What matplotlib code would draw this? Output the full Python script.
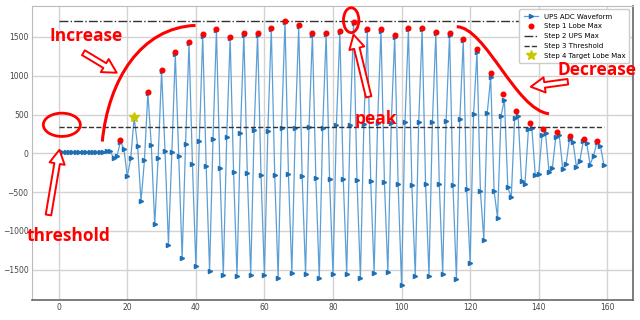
import numpy as np
import matplotlib.pyplot as plt
from matplotlib.patches import Ellipse, PathPatch
from matplotlib.path import Path

# --- datos ---
wave = [
    -10, 15, 18, 16, 14, 18, 16, 20, 16, 18, 14, 12, 14, 16, 28, 25,
    -55, -34, 150, 60, -295, -66, 462, 98, -620, -90, 780, 103,
    -915, -56, 1060, 32, -1175, 15, 1285, -34, -1350, 125, 1420, -140,
    -1457, 158, 1515, -162, -1517, 190, 1585, -192, -1573, 212, 1482, -239,
    -1580, 262, 1530, -250, -1565, 302, 1530, -275, -1573, 290, 1605, -275,
    -1603, 330, 1696, -268, -1543, 325, 1638, -293, -1556, 335, 1530, -321,
    -1612, 332, 1535, -337, -1560, 368, 1560, -337, -1550, 362, 1685, -338,
    -1611, 375, 1590, -355, -1538, 385, 1583, -372, -1534, 395, 1505, -397,
    -1692, 401, 1598, -402, -1577, 401, 1598, -389, -1577, 406, 1545, -389,
    -1560, 414, 1530, -414, -1620, 445, 1455, -457, -1415, 504, 1300, -488,
    -1111, 521, 980, -490, -829, 478, 692, -440, -568, 460, 478, -355,
    -389, 308, 330, -280, -265, 240, 256, -235, -188, 215, 231, -196,
    -135, 190, 150, -170, -95, 155, 130, -145, -30, 140, 100, -145,
]
samples = np.arange(len(wave))

lobe_idx = [18, 22, 26, 30, 34, 38, 42, 46, 50, 54, 58, 62, 66, 70, 74, 78,
            82, 86, 90, 94, 98, 102, 106, 110, 114, 118, 122, 126,
            129.5, 133.5, 137.4, 141.4, 145.3, 149.2, 153.1, 157.0]
lobe_max = [170, 470, 797, 1075, 1302, 1436, 1533, 1601, 1498, 1547, 1547, 1620,
            1702, 1652, 1545, 1551, 1575, 1692, 1603, 1598, 1521, 1615, 1615, 1562,
            1545, 1470, 1348, 1035, 762, 542, 393, 320, 270, 225, 182, 163]

ups_max = 1700
threshold = 345
target_idx = 22
target_max = 470

RED = '#ff0000'
ANNOT = dict(color=RED, fontsize=12.5, fontweight='bold', family='Open Sans',
             ha='center', va='center', zorder=7)

fig = plt.figure(figsize=(6.4, 3.2), dpi=100)
ax = fig.add_axes([0.05, 0.0625, 0.939, 0.919])

ax.plot(samples, wave, marker='>', ms=3.0, lw=0.9, color='#5b9fd6',
        mfc='#1f6fb4', mec='#1f6fb4', label='UPS ADC Waveform', zorder=2)
ax.plot(lobe_idx, lobe_max, 'o', color='red', ms=3.3, ls='none',
        label='Step 1 Lobe Max', zorder=3)
ax.hlines(ups_max, samples[0], samples[-1], colors='#333333', linestyles='-.',
          lw=1.0, label='Step 2 UPS Max')
ax.hlines(threshold, samples[0], samples[-1], colors='#333333', linestyles='--',
          lw=1.0, label='Step 3 Threshold')
ax.plot([target_idx], [target_max], '*', color='#c8c800', ms=7, ls='none',
        label='Step 4 Target Lobe Max', zorder=4)

ax.set_xticks(np.arange(0, 161, 20))
ax.set_yticks(np.arange(-1500, 1501, 500))
ax.grid(True, color='#d3d3d3', lw=1.0)
ax.set_axisbelow(True)
ax.tick_params(labelsize=5.5, colors='#444444', length=0, pad=2.5)
for side in ['top', 'left']:
    ax.spines[side].set_color('#bbbbbb')
    ax.spines[side].set_linewidth(0.8)
for side in ['bottom', 'right']:
    ax.spines[side].set_color('#666666')
    ax.spines[side].set_linewidth(1.2)

leg = ax.legend(loc='upper right', fontsize=5, handlelength=2.1, labelspacing=0.55,
                borderpad=0.6, framealpha=1, edgecolor='#cccccc', fancybox=True)
leg.set_zorder(5)


# --- anotaciones a mano (rojo) ---
def hollow_arrow(tail, head):
    ax.annotate('', xy=head, xytext=tail, zorder=7, annotation_clip=False,
                arrowprops=dict(arrowstyle='simple,head_length=1.0,head_width=1.1,tail_width=0.4',
                                fc='white', ec=RED, lw=1.4, shrinkA=0, shrinkB=0))


def red_curve(pts):
    codes = [Path.MOVETO, Path.CURVE4, Path.CURVE4, Path.CURVE4]
    ax.add_patch(PathPatch(Path(pts, codes), fc='none', ec=RED, lw=2.2,
                           zorder=7, clip_on=False))


red_curve([(12.7, 152), (14.5, 948), (23.9, 1619), (39.9, 1649)])
red_curve([(116.1, 1632), (124.6, 1619), (133.3, 561), (143.0, 510)])
ax.add_patch(Ellipse((85.3, 1716), 4.5, 320, fc='none', ec=RED, lw=2, zorder=7, clip_on=False))
ax.add_patch(Ellipse((0.9, 368), 10.8, 300, fc='none', ec=RED, lw=2, zorder=7, clip_on=False))

hollow_arrow((7.2, 1297), (16.9, 1039))
hollow_arrow((-3.0, -794), (0.2, 45))
hollow_arrow((90.4, 729), (86.0, 1529))
hollow_arrow((148.5, 923), (137.7, 858))

ax.text(8.1, 1516, 'Increase', **ANNOT)
ax.text(157.0, 1077, 'Decrease', **ANNOT)
ax.text(92.5, 440, 'peak', **ANNOT)
ax.text(2.8, -1065, 'threshold', **ANNOT)

ax.set_xlim(-7.8, 167.5)
ax.set_ylim(-1890, 1900)

fig.savefig('out.png', dpi=100)
